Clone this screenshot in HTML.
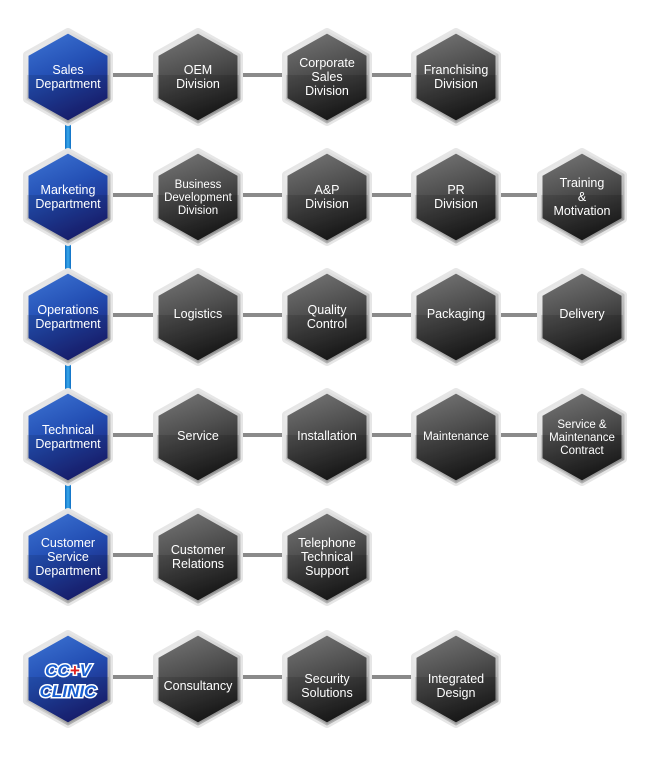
<!DOCTYPE html>
<html><head><meta charset="utf-8"><style>
html,body{margin:0;padding:0;background:#fff;}
svg{display:block;}
text{font-family:"Liberation Sans",sans-serif;font-size:12.5px;fill:#fff;text-anchor:middle;}
</style></head><body>
<svg width="650" height="766" viewBox="0 0 650 766" xmlns="http://www.w3.org/2000/svg">
<defs>
<linearGradient id="gb" x1="0" y1="0" x2="0.4" y2="1">
<stop offset="0" stop-color="#3f77d6"/><stop offset="0.5" stop-color="#2450b5"/><stop offset="1" stop-color="#1a237a"/></linearGradient>
<linearGradient id="gg" x1="0" y1="0" x2="0.3" y2="1">
<stop offset="0" stop-color="#7a7a7a"/><stop offset="0.5" stop-color="#4f4f4f"/><stop offset="1" stop-color="#1e1e1e"/></linearGradient>
<linearGradient id="rim" x1="0" y1="0" x2="1" y2="1">
<stop offset="0" stop-color="#f4f4f4"/><stop offset="0.6" stop-color="#c8c8c8"/><stop offset="1" stop-color="#8a8a8a"/></linearGradient>
<linearGradient id="vl" x1="0" x2="1"><stop offset="0" stop-color="#0f6fc4"/><stop offset="0.5" stop-color="#39a8ea"/><stop offset="1" stop-color="#0f6fc4"/></linearGradient>
<path id="hx" d="M0,-45 L41,-22 L41,22 L0,45 L-41,22 L-41,-22 Z"/>
<g id="B"><use href="#hx" fill="#d8d8d8" stroke="#e6e6e6" stroke-width="8" stroke-linejoin="round"/><use href="#hx" fill="url(#gb)" stroke="url(#rim)" stroke-width="3" stroke-linejoin="round"/><path d="M-41,-2 L41,-2 L41,22 L0,45 L-41,22Z" fill="#000" opacity="0.1"/></g>
<g id="G"><use href="#hx" fill="#d8d8d8" stroke="#e6e6e6" stroke-width="8" stroke-linejoin="round"/><use href="#hx" fill="url(#gg)" stroke="url(#rim)" stroke-width="3" stroke-linejoin="round"/><path d="M-41,-2 L41,-2 L41,22 L0,45 L-41,22Z" fill="#000" opacity="0.12"/></g>
</defs>
<!-- vertical blue connectors -->
<g fill="url(#vl)">
<rect x="65" y="122" width="6" height="30"/><rect x="65" y="242" width="6" height="30"/>
<rect x="65" y="362" width="6" height="30"/><rect x="65" y="482" width="6" height="30"/>
</g>
<!-- horizontal lines -->
<g fill="#8a8a8a">
<rect x="108" y="73" width="350" height="4"/>
<rect x="108" y="193" width="480" height="4"/>
<rect x="108" y="313" width="480" height="4"/>
<rect x="108" y="433" width="480" height="4"/>
<rect x="108" y="553" width="220" height="4"/>
<rect x="108" y="675" width="350" height="4"/>
</g>
<!-- row 1 -->
<use href="#B" x="68" y="77"/><use href="#G" x="198" y="77"/><use href="#G" x="327" y="77"/><use href="#G" x="456" y="77"/>
<text x="68" y="74">Sales</text><text x="68" y="88">Department</text>
<text x="198" y="74">OEM</text><text x="198" y="88">Division</text>
<text x="327" y="67">Corporate</text><text x="327" y="81">Sales</text><text x="327" y="95">Division</text>
<text x="456" y="74">Franchising</text><text x="456" y="88">Division</text>
<!-- row 2 -->
<use href="#B" x="68" y="197"/><use href="#G" x="198" y="197"/><use href="#G" x="327" y="197"/><use href="#G" x="456" y="197"/><use href="#G" x="582" y="197"/>
<text x="68" y="194">Marketing</text><text x="68" y="208">Department</text>
<text x="198" y="188" style="font-size:11.5px">Business</text><text x="198" y="201" style="font-size:11.5px">Development</text><text x="198" y="214" style="font-size:11.5px">Division</text>
<text x="327" y="194">A&amp;P</text><text x="327" y="208">Division</text>
<text x="456" y="194">PR</text><text x="456" y="208">Division</text>
<text x="582" y="187">Training</text><text x="582" y="201">&amp;</text><text x="582" y="215">Motivation</text>
<!-- row 3 -->
<use href="#B" x="68" y="317"/><use href="#G" x="198" y="317"/><use href="#G" x="327" y="317"/><use href="#G" x="456" y="317"/><use href="#G" x="582" y="317"/>
<text x="68" y="314">Operations</text><text x="68" y="328">Department</text>
<text x="198" y="318">Logistics</text>
<text x="327" y="314">Quality</text><text x="327" y="328">Control</text>
<text x="456" y="318">Packaging</text>
<text x="582" y="318">Delivery</text>
<!-- row 4 -->
<use href="#B" x="68" y="437"/><use href="#G" x="198" y="437"/><use href="#G" x="327" y="437"/><use href="#G" x="456" y="437"/><use href="#G" x="582" y="437"/>
<text x="68" y="434">Technical</text><text x="68" y="448">Department</text>
<text x="198" y="440">Service</text>
<text x="327" y="440">Installation</text>
<text x="456" y="440" style="font-size:11.5px">Maintenance</text>
<text x="582" y="428" style="font-size:11.5px">Service &amp;</text><text x="582" y="441" style="font-size:11.5px">Maintenance</text><text x="582" y="454" style="font-size:11.5px">Contract</text>
<!-- row 5 -->
<use href="#B" x="68" y="557"/><use href="#G" x="198" y="557"/><use href="#G" x="327" y="557"/>
<text x="68" y="547">Customer</text><text x="68" y="561">Service</text><text x="68" y="575">Department</text>
<text x="198" y="554">Customer</text><text x="198" y="568">Relations</text>
<text x="327" y="547">Telephone</text><text x="327" y="561">Technical</text><text x="327" y="575">Support</text>
<!-- row 6 -->
<use href="#B" x="68" y="679"/><use href="#G" x="198" y="679"/><use href="#G" x="327" y="679"/><use href="#G" x="456" y="679"/>
<g style="font-style:italic;font-weight:bold;">
<text x="68" y="676" style="font-size:17px;fill:#fff;stroke:#fff;stroke-width:3;paint-order:stroke">CC+V</text>
<text x="68" y="676" style="font-size:17px;fill:#1a5fd0">CC<tspan fill="#e02020">+</tspan>V</text>
<text x="68" y="697" style="font-size:17px;fill:#fff;stroke:#fff;stroke-width:3;paint-order:stroke">CLINIC</text>
<text x="68" y="697" style="font-size:17px;fill:#1a5fd0">CLINIC</text>
</g>
<text x="198" y="690">Consultancy</text>
<text x="327" y="683">Security</text><text x="327" y="697">Solutions</text>
<text x="456" y="683">Integrated</text><text x="456" y="697">Design</text>
</svg>
</body></html>
